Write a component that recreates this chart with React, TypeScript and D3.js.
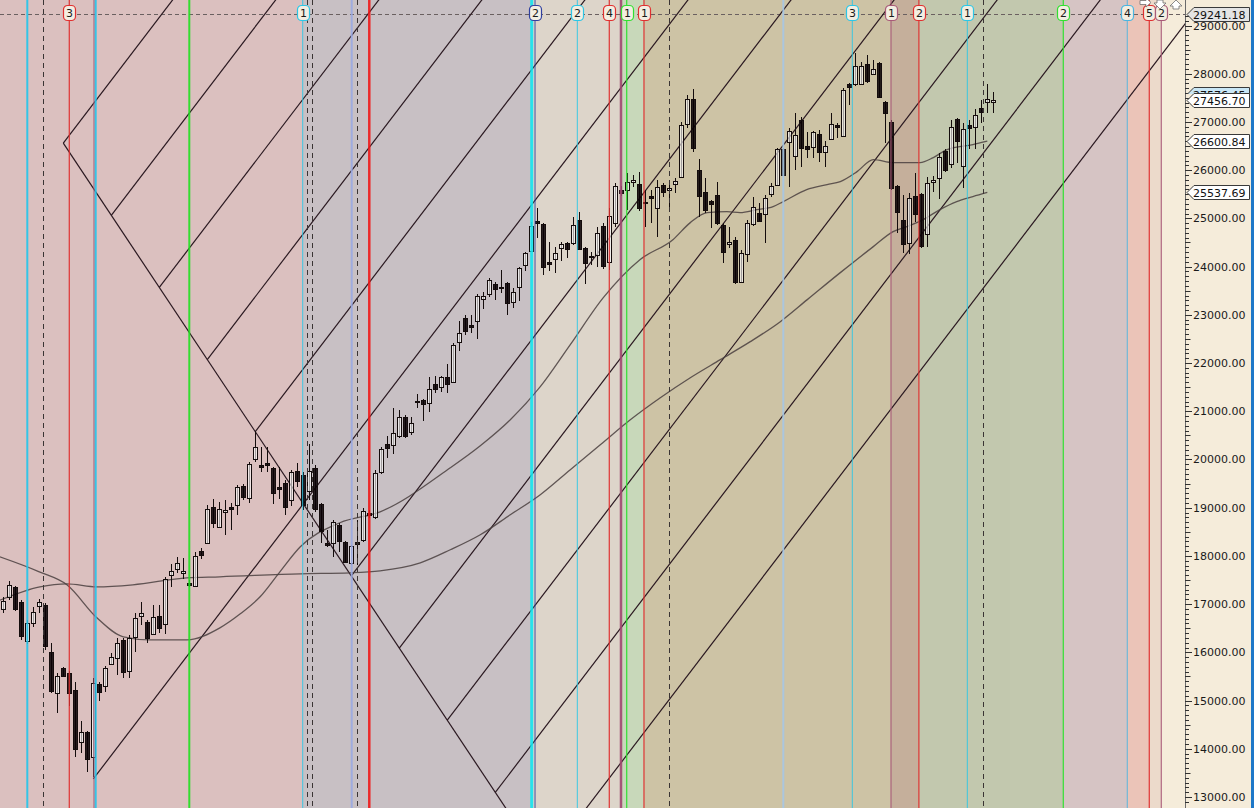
import React from 'react';
import * as d3 from 'd3';

// ---------- DATA ----------
const opens = [16903,17152,17360,17048,16238,16612,16965,16986,16010,15159,15678,15574,15222,14143,14350,13832,15347,15305,15761,15886,16259,15616,16322,16758,16633,16384,16758,16591,17608,17733,17650,17442,17380,18106,18272,19019,18604,18915,19019,19060,19455,19206,20015,19891,19932,19828,19434,19517,19164,19766,19684,19351,19828,19082,18272,18272,18645,18293,17857,18293,18334,18895,18812,19745,20327,20306,20493,20887,20575,21219,21240,21177,21571,21509,21717,21613,22443,22941,22796,22879,23335,23439,23646,23584,23667,23273,23584,24041,24331,24948,24891,24103,24165,24394,24497,24497,24975,24394,24228,24248,24850,24103,24912,25597,25597,25763,25721,25348,25472,25223,25701,25597,25721,25867,26967,27485,26012,25555,25369,25493,24871,24476,24559,23688,24269,24891,25120,25099,25514,25701,26448,26593,26303,27049,26510,26489,26759,26386,26655,26946,26717,27796,27796,27796,28211,28004,28232,27423,27008,25680,24975,24497,25472,25514,24684,25763,25846,26406,26136,27070,26095,26946,26904,27298,27423,27423];
const highs = [17152,17484,17380,17090,16675,16944,17110,17028,16197,15574,15699,15616,15388,14579,14371,15470,15388,15720,15989,16301,16301,16363,16820,17048,16675,16986,16986,17567,17837,17982,17961,17505,18085,18168,19060,19185,19123,19164,19102,19476,19496,19953,20596,20264,20264,19849,19849,19580,19787,19932,19745,20327,19891,19102,18542,18749,18687,18313,18231,18749,18998,18957,19787,20264,20493,21073,21032,20928,20887,21364,21260,21717,21738,21738,21986,22422,22879,23003,23003,23439,23480,23771,23688,23937,23688,23563,23999,24310,24933,25224,24912,24518,24414,24518,24518,25037,25140,24414,24310,24829,24912,25223,25742,25680,25950,25908,25970,25597,25597,25805,25742,25784,25846,27008,27568,27692,26240,25846,25390,25763,24912,24829,24622,24352,24975,25452,25327,25493,25742,26469,26469,26884,27195,27112,26800,26821,26842,26614,27195,26987,27713,27817,28440,28253,28398,28294,28253,27443,27049,25701,25493,25535,25950,25535,25867,25888,26365,26448,27049,27091,26987,27049,27278,27464,27796,27630];
const lows = [16820,17090,16861,16259,16176,16529,16820,16052,15159,14745,15491,14890,13832,13915,13520,13416,14994,15180,15740,15533,15471,15471,16010,16570,16197,16363,16404,16384,17360,17650,17526,17360,17360,17940,18272,18583,18583,18438,18542,18853,19164,19102,19953,19745,19745,19082,19185,18853,19040,19434,18957,19164,18915,18272,18189,17982,18085,17857,17816,17816,18293,18790,18770,19704,20036,20119,20451,20451,20513,21073,20790,20990,21385,21405,21385,21592,22256,22588,22630,22505,23128,23377,23314,23460,23003,23148,23294,23916,24310,24601,23834,23916,23875,24124,24186,24456,24352,23646,24041,24000,23958,23937,24829,25472,25182,25659,25161,24829,24912,24622,25452,25244,25535,25846,26884,26386,25037,25120,24808,24871,24082,24394,23646,23667,24103,24850,24933,24497,25452,25680,25888,25659,26012,26074,26261,26261,26178,26074,26634,26676,26697,27360,27755,27775,27817,27983,27506,26572,25597,24705,24290,24269,24933,24394,24414,25555,25410,25970,26053,26157,25638,26448,26448,26987,27195,27195];
const closes = [17069,17401,16903,16342,16612,16840,17048,16135,15201,15512,15512,15159,14000,14350,13790,15367,15180,15678,15906,16197,15595,16301,16716,16820,16301,16737,16508,17526,17691,17857,17691,17401,18002,18023,18978,18687,18978,18957,18978,19434,19227,19911,20264,19849,19891,19310,19393,19019,19745,19559,19060,19766,18978,18521,18231,18708,18313,17878,18210,18251,18936,18853,19725,20223,20244,20555,20887,20493,20762,21198,21156,21468,21468,21717,21571,22381,22630,22671,22754,23397,23397,23730,23543,23563,23252,23480,23979,24290,24849,24907,24000,24062,24290,24476,24373,24871,24373,24082,24207,24705,24020,25057,25680,25535,25763,25805,25223,25327,25431,25659,25555,25638,25784,26946,27485,26469,25472,25182,25306,24912,24310,24518,23688,24290,24912,25244,24954,25431,25680,26448,25908,26822,26738,26469,26448,26800,26386,26510,26967,26904,27672,27734,28170,28170,27858,28108,27527,27195,25638,25140,24476,25431,25099,24435,25742,25805,26282,26012,26904,26614,26862,26884,27153,27215,27485,27457];

// moving averages (bar index, value)
const maFastBars = [-1,6,10.6,15.6,20,24.5,30.6,36.1,39.5,42.8,46.1,49.5,56.1,62.8,74.5,79.5,84.5,89.5,94.5,100,106.1,111.6,114.5,117.3,120.6,122.8,125.6,128.3,130,133.9,137.3,139.5,142.3,145,148.3,152.8,155,157.3,161.6,164];
const maFastVals = [18000,17670,17401,16716,16322,16259,16259,16508,16799,17152,17670,18189,18687,18915,19828,20285,20824,21509,22381,23356,24144,24559,24912,25120,25140,25120,25182,25244,25348,25597,25701,25763,25970,26219,26157,26157,26261,26427,26530,26601];
const maSlowBars = [-1,6.1,10.6,15.6,21.6,30.6,36.1,49.5,57.8,62.8,69.5,74.5,79.5,84.5,89.5,94.5,99.5,104.5,109.5,114.5,119.5,124.5,129.5,134,139.5,141.6,145,148.3,150.6,153.3,156.1,158.9,161.6,164];
const maSlowVals = [17060,17359,17421,17359,17401,17546,17567,17629,17650,17691,17857,18127,18438,18853,19268,19787,20305,20824,21281,21696,22070,22443,22858,23315,23875,24082,24414,24725,24829,24974,25182,25348,25452,25538];

// Gann grid: descending base line and ascending parallel lines (bar, price)
const baseLineStart = [10, 26560];
const baseLineEnd = [90, 11600];
const ascStartBars = [10, 18, 26, 34, 42, 15, 58, 66, 74, 82, 90];
const ascStartPrices = [26560, 25064, 23568, 22072, 20576, 13375, 17584, 16088, 14592, 13096, 11600];
const ascSlopePerBar = 163;

// vertical time lines (bar position) and their labels
const vlineBars = [4, 11, 15.12, 15.4, 31, 49.9, 58.07, 61, 88.07, 88.62, 95.67, 101, 102.95, 103.9, 106.78, 130, 141.5, 147.95, 152.6, 160.67, 176.67, 187.33, 191, 193];
const vlineLabels = ['', '3', '', '', '', '1', '', '', '', '2', '2', '4', '', '1', '1', '', '3', '1', '2', '1', '2', '4', '5', '2'];
const vlineKinds = ['cyan2', 'red', 'maroon', 'cyan2', 'green2', 'cyan', 'peri', 'red3', 'cyan3', 'navy', 'cyan', 'red', 'maroon3', 'green', 'red', 'lblue', 'cyan', 'maroon', 'red', 'cyan', 'green', 'cyanb', 'red', 'maroon'];
const dashedBars = [6.67, 50.57, 51.5, 59, 111, 163.23];

// background zones (start bar)
const zoneStarts = [-2, 49.9, 88.07, 102.95, 106.78, 147.95, 152.6, 176.67, 187.33, 191, 193];
const zoneColors = ['#dbc0bf', '#c8c0c4', '#ddd5ca', '#c8d8ba', '#cdc3a5', '#c5af9b', '#c2c8ae', '#d6c4c4', '#ebc4b8', '#ecdacb', '#f5ecda'];

const axisTicks = [13000,14000,15000,16000,17000,18000,19000,20000,21000,22000,23000,24000,25000,26000,27000,28000,29000];
const topLevel = 29241.18;
const priceTags = [
  { v: 29241.18, fill: '#e4e4e4' },
  { v: 27576.45, fill: '#c9e6f5' },
  { v: 27456.70, fill: '#ffffff' },
  { v: 26600.84, fill: '#ffffff' },
  { v: 25537.69, fill: '#ffffff' },
];

const kindStyle: Record<string, { c: string; w: number }> = {
  cyan: { c: '#2cc6e6', w: 1 },
  cyan2: { c: '#22c4ea', w: 2 },
  cyan3: { c: '#14e6f0', w: 3 },
  cyanb: { c: '#4ab4e0', w: 1 },
  red: { c: '#e03030', w: 1.3 },
  red3: { c: '#f01818', w: 2.5 },
  maroon: { c: '#a85a78', w: 1.2 },
  maroon3: { c: '#a04870', w: 2.5 },
  green: { c: '#30e030', w: 1.3 },
  green2: { c: '#20e020', w: 2 },
  peri: { c: '#9aa8e2', w: 2 },
  navy: { c: '#3040a0', w: 1 },
  lblue: { c: '#a6c6e4', w: 2 },
};

const W = 1254, H = 808, AXIS_X = 1185;

export default function App() {
  const x = d3.scaleLinear().domain([0, 1]).range([3.3, 9.3]);
  const y = d3.scaleLinear().domain([13000, 29000]).range([797, 25.5]);
  const px = (b: number) => Math.floor(x(b)) + 0.5;

  const fastLine = d3.line<number>().x((_, i) => x(maFastBars[i])).y(v => y(v)).curve(d3.curveMonotoneX);
  const slowLine = d3.line<number>().x((_, i) => x(maSlowBars[i])).y(v => y(v)).curve(d3.curveMonotoneX);

  const zoneX = zoneStarts.map(b => Math.max(0, Math.round(x(b))));

  const minorTicks = d3.range(12900, 29300, 100);

  return (
    <svg width={W} height={H} style={{ position: 'fixed', left: 0, top: 0, display: 'block' }} fontFamily="'DejaVu Sans', Verdana, sans-serif">
      <defs>
        <clipPath id="plot"><rect x={0} y={0} width={AXIS_X} height={H} /></clipPath>
        <clipPath id="tagclip"><rect x={AXIS_X} y={0} width={W - AXIS_X} height={Math.round(y(27456.70)) - 6} /></clipPath>
      </defs>
      {/* zones */}
      {zoneStarts.map((b, i) => {
        const x0 = zoneX[i];
        const x1 = i + 1 < zoneStarts.length ? zoneX[i + 1] : W;
        return <rect key={'z' + i} x={x0} y={0} width={x1 - x0} height={H} fill={zoneColors[i]} />;
      })}
      <g clipPath="url(#plot)">
        {/* top dashed level */}
        <line x1={0} x2={AXIS_X} y1={Math.round(y(topLevel)) + 0.5} y2={Math.round(y(topLevel)) + 0.5} stroke="#6a6060" strokeDasharray="4,3" strokeWidth={1} />
        {/* gann lines */}
        <line x1={x(baseLineStart[0])} y1={y(baseLineStart[1])} x2={x(baseLineEnd[0])} y2={y(baseLineEnd[1])} stroke="#2a1820" strokeWidth={1.2} />
        {ascStartBars.map((b, i) => {
          const bEnd = 230;
          const pEnd = ascStartPrices[i] + ascSlopePerBar * (bEnd - b);
          return <line key={'g' + i} x1={x(b)} y1={y(ascStartPrices[i])} x2={x(bEnd)} y2={y(pEnd)} stroke="#2a1820" strokeWidth={1.2} />;
        })}
        {/* moving averages */}
        <path d={slowLine(maSlowVals) || ''} fill="none" stroke="#4a4040" strokeOpacity={0.85} strokeWidth={1.3} />
        <path d={fastLine(maFastVals) || ''} fill="none" stroke="#4a4040" strokeOpacity={0.85} strokeWidth={1.3} />
        {/* candles */}
        {opens.map((o, i) => {
          const c = closes[i];
          const bull = c >= o;
          const cx = px(i);
          const top = Math.round(y(Math.max(o, c))) + 0.5;
          const bot = Math.round(y(Math.min(o, c))) + 0.5;
          return (
            <g key={'c' + i}>
              <line x1={cx} x2={cx} y1={Math.round(y(highs[i]))} y2={Math.round(y(lows[i]))} stroke="#140c0c" strokeWidth={1} />
              <rect x={cx - 2} y={top} width={4} height={Math.max(1, bot - top)} fill={bull ? 'rgba(255,255,255,0.6)' : 'rgba(8,0,4,0.86)'} stroke="#140c0c" strokeWidth={1} />
            </g>
          );
        })}
        {/* vertical lines */}
        {vlineBars.map((b, i) => {
          const s = kindStyle[vlineKinds[i]];
          const lx = x(b);
          return <line key={'v' + i} x1={lx} x2={lx} y1={0} y2={H} stroke={s.c} strokeWidth={s.w} strokeOpacity={0.9} />;
        })}
        {dashedBars.map((b, i) => (
          <line key={'d' + i} x1={Math.round(x(b)) + 0.5} x2={Math.round(x(b)) + 0.5} y1={0} y2={H} stroke="#3a3434" strokeDasharray="5,4" strokeWidth={1} />
        ))}
        {/* labels */}
        {vlineBars.map((b, i) => {
          if (!vlineLabels[i]) return null;
          const s = kindStyle[vlineKinds[i]];
          const lx = Math.round(x(b));
          return (
            <g key={'l' + i}>
              <rect x={lx - 5.5} y={5.5} width={12} height={15} rx={4} fill="#f3eee2" stroke={s.c} strokeWidth={1.2} />
              <text x={lx + 0.5} y={17} textAnchor="middle" fontSize={11} fill="#1a1a1a">{vlineLabels[i]}</text>
            </g>
          );
        })}
      </g>
      {/* top arrows */}
      <g stroke="#707070" strokeWidth={0.8} fill="#ffffff">
        <path d="M1140,0.5 L1146,0.5 L1146,-2 L1151,2.5 L1146,7 L1146,4.5 L1140,4.5 Z" />
        <path d="M1157,0 L1157,3 L1154,3 L1160,9 L1166,3 L1163,3 L1163,0 Z" />
        <path d="M1176,0 L1182,6 L1179,6 L1179,9 L1173,9 L1173,6 L1170,6 Z" />
      </g>
      {/* axis */}
      <line x1={AXIS_X + 0.5} x2={AXIS_X + 0.5} y1={0} y2={H} stroke="#6a6a6a" strokeWidth={1} />
      {minorTicks.map((v, i) => {
        const ty = Math.round(y(v)) + 0.5;
        const len = v % 1000 === 0 ? 6 : v % 500 === 0 ? 4.5 : 3;
        return <line key={'t' + i} x1={AXIS_X} x2={AXIS_X + 1 + len} y1={ty} y2={ty} stroke="#303030" strokeWidth={1} />;
      })}
      {axisTicks.map((v, i) => (
        <text key={'a' + i} x={1193} y={y(v) + 4} fontSize={11} fill="#1a1a1a">{v.toFixed(2)}</text>
      ))}
      {priceTags.map((t, i) => {
        const ty = Math.round(y(t.v)) + 0.5;
        const hidden = t.v === 27576.45;
        return (
          <g key={'p' + i} clipPath={hidden ? 'url(#tagclip)' : undefined}>
            <path d={`M${AXIS_X + 2},${ty} L${AXIS_X + 9},${ty - 7} L1249.5,${ty - 7} L1249.5,${ty + 7} L${AXIS_X + 9},${ty + 7} Z`} fill={t.fill} stroke="#3a3a3a" strokeWidth={1} />
            <text x={1193} y={ty + 4} fontSize={11} fill="#101010">{t.v.toFixed(2)}</text>
          </g>
        );
      })}
      <rect x={1251} y={0} width={3} height={H} fill="#1e78c8" />
    </svg>
  );
}
